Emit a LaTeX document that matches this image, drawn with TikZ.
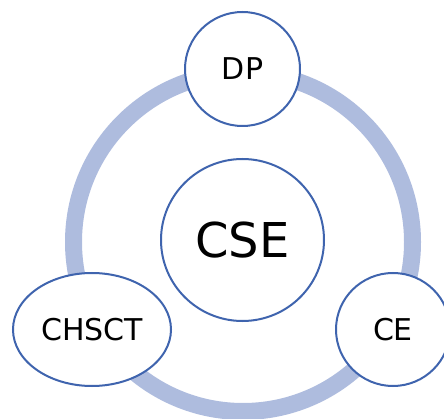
\documentclass[tikz,border=0pt]{standalone}
\usepackage{fontspec}
\usetikzlibrary{shapes.geometric}
\newfontfamily\labelfont{DejaVu Sans}
\definecolor{ringblue}{RGB}{174,188,222}
\definecolor{edgeblue}{RGB}{63,100,174}
\begin{document}
\begin{tikzpicture}[x=1pt,y=-1pt,
  bubble/.style={ellipse, draw=edgeblue, line width=2pt, fill=white, inner sep=0pt,
    font=\labelfont\fontsize{30}{36}\selectfont, text=black}]
  \useasboundingbox (0,0) rectangle (444,419);
  % connecting ring behind the bubbles
  \draw[ringblue, line width=17pt] (243,242) circle[radius=169.5];
  % centre and satellites
  \node[bubble, minimum width=163pt, minimum height=162pt,
        font=\labelfont\fontsize{48}{56}\selectfont] (cse) at (242.5,240) {CSE};
  \node[bubble, minimum width=115pt, minimum height=114pt] (dp) at (242.5,69) {DP};
  \node[bubble, minimum width=158pt, minimum height=113pt] (chsct) at (92,329.5) {CHSCT};
  \node[bubble, minimum width=114pt, minimum height=113pt] (ce) at (393,329.5) {CE};
\end{tikzpicture}
\end{document}
